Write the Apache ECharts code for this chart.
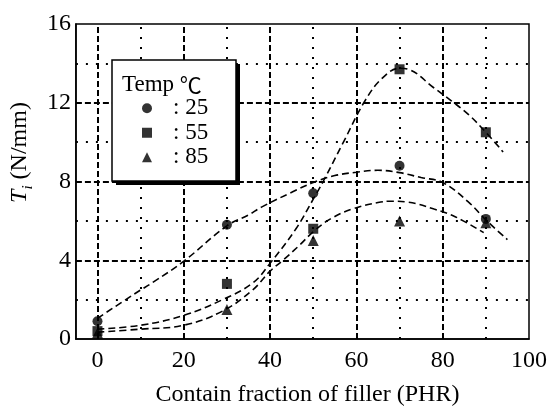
<!DOCTYPE html>
<html><head><meta charset="utf-8">
<script src="https://cdn.jsdelivr.net/npm/echarts@6/dist/echarts.min.js"></script>
<style>html,body{margin:0;padding:0;background:#fff}#c{width:559px;height:412px}</style>
</head><body><div id="c"></div>
<script>
// measured points
const fillerPHR = [0, 30, 50, 70, 90];
const ti25 = [0.9, 5.8, 7.4, 8.8, 6.1];
const ti55 = [0.4, 2.8, 5.6, 13.7, 10.5];
const ti85 = [0.3, 1.5, 5.0, 6.0, 5.9];
// fitted curves
const fit25X = [0, 9, 13, 20, 30, 35, 38, 45, 50, 55, 60, 65, 70, 75, 80, 86, 90, 95];
const fit25Y = [1.05, 2.35, 2.9, 3.95, 5.75, 6.3, 6.7, 7.45, 7.95, 8.3, 8.47, 8.57, 8.45, 8.2, 7.95, 6.95, 6.05, 5.05];
const fit55X = [0, 10, 20, 29, 36, 40, 46, 50, 52.3, 57, 62, 66, 70, 72, 78, 82, 86, 90, 94];
const fit55Y = [0.5, 0.7, 1.2, 2.0, 2.85, 3.85, 5.6, 7.1, 8.0, 10.0, 12.1, 13.25, 13.75, 13.7, 12.75, 12.1, 11.4, 10.5, 9.5];
const fit85X = [0, 10, 20, 29, 36, 40, 43, 47, 50, 54, 59, 65, 68, 72, 78, 83, 89.5];
const fit85Y = [0.35, 0.5, 0.7, 1.42, 2.5, 3.45, 4.0, 4.8, 5.45, 6.1, 6.6, 6.93, 7.0, 6.95, 6.6, 6.2, 5.4];
// grid lines and ticks
const xMajorGrid = [0, 20, 40, 60, 80];
const xMinorGrid = [10, 30, 50, 70, 90];
const yMajorGrid = [4, 8, 12];
const yMinorGrid = [2, 6, 10, 14];
const xTickLabels = [0, 20, 40, 60, 80, 100];
const legendNames = [': 25', ': 55', ': 85'];
const legendTitleWord = 'Temp ';
const legendTitleUnit = '\u2103';
const xTitle = 'Contain fraction of filler (PHR)';

const FONT = '"Liberation Serif", "DejaVu Serif", "Times New Roman", serif';
const zip = (xs, ys) => xs.map((x, i) => [x, ys[i]]);

const majorStyle = {type: [6, 3], width: 2, color: '#000'};
const minorStyle = {type: [2, 8], width: 2, color: '#000'};
const gridLines = [].concat(
  xMajorGrid.map(v => ({xAxis: v, lineStyle: majorStyle})),
  xMinorGrid.map(v => ({xAxis: v, lineStyle: minorStyle})),
  yMajorGrid.map(v => ({yAxis: v, lineStyle: majorStyle})),
  yMinorGrid.map(v => ({yAxis: v, lineStyle: minorStyle}))
);

const curveStyle = {type: [7, 4], width: 1.6, color: '#000'};
function curve(name, xs, ys, extra) {
  return Object.assign({
    name: name, type: 'line', data: zip(xs, ys), smooth: 0.4,
    showSymbol: false, symbol: 'none', lineStyle: curveStyle, silent: true, z: 3
  }, extra || {});
}

const chart = echarts.init(document.getElementById('c'));
chart.setOption({
  animation: false,
  backgroundColor: '#fff',
  grid: {left: 73, top: 24, right: 30, bottom: 65, show: true, borderColor: '#000', borderWidth: 1.5},
  xAxis: {
    type: 'value', min: -5, max: 100, interval: 5,
    name: xTitle, nameLocation: 'middle', nameGap: 44,
    nameTextStyle: {fontFamily: FONT, fontSize: 24, color: '#000', padding: [0, 0, 0, 10]},
    axisLine: {onZero: false, lineStyle: {color: '#000', width: 1.5}},
    axisTick: {show: false},
    splitLine: {show: false},
    axisLabel: {
      fontFamily: FONT, fontSize: 24, color: '#000', margin: 10,
      formatter: v => (xTickLabels.indexOf(v) >= 0 ? String(v) : '')
    }
  },
  yAxis: {
    type: 'value', min: 0, max: 16, interval: 4,
    name: '{t|T}{s|i} (N/mm)', nameLocation: 'middle', nameGap: 30, nameRotate: 90,
    nameTextStyle: {
      fontFamily: FONT, fontSize: 24, color: '#000', padding: [0, 0, 0, 58],
      rich: {
        t: {fontFamily: FONT, fontSize: 24, fontStyle: 'italic', color: '#000'},
        s: {fontFamily: FONT, fontSize: 15, fontStyle: 'italic', color: '#000', verticalAlign: 'bottom', padding: [0, 0, -4, 0]}
      }
    },
    axisLine: {onZero: false, lineStyle: {color: '#000', width: 1.5}},
    axisTick: {show: false},
    splitLine: {show: false},
    axisLabel: {fontFamily: FONT, fontSize: 24, color: '#000', margin: 5}
  },
  legend: {
    data: legendNames,
    orient: 'vertical', left: 142, top: 96, padding: 0, itemWidth: 10, itemHeight: 10, itemGap: 0,
    z: 200, selectedMode: false,
    textStyle: {fontFamily: FONT, fontSize: 23, color: '#000', lineHeight: 24.5, padding: [0, 0, 0, 16]}
  },
  graphic: [
    {type: 'rect', z: 99, silent: true,
     shape: {x: 116, y: 64, width: 124, height: 121},
     style: {fill: '#000'}},
    {type: 'rect', z: 100, silent: true,
     shape: {x: 112, y: 60, width: 124, height: 121},
     style: {fill: '#fff', stroke: '#000', lineWidth: 1.5}},
    {type: 'text', z: 200, silent: true, left: 122, top: 73,
     style: {
       text: '{a|' + legendTitleWord + '}{b|' + legendTitleUnit + '}',
       fill: '#000',
       rich: {
         a: {fontFamily: FONT, fontSize: 23, fill: '#000'},
         b: {fontFamily: '"Noto Sans CJK JP", "DejaVu Serif", sans-serif', fontSize: 22, fill: '#000'}
       }
     }}
  ],
  series: [
    curve('fit25', fit25X, fit25Y, {
      markLine: {silent: true, symbol: ['none', 'none'], label: {show: false}, animation: false, data: gridLines}
    }),
    curve('fit55', fit55X, fit55Y),
    curve('fit85', fit85X, fit85Y),
    {name: legendNames[2], type: 'scatter', symbol: 'triangle', symbolSize: 11, data: zip(fillerPHR, ti85), itemStyle: {color: '#000'}, z: 5},
    {name: legendNames[1], type: 'scatter', symbol: 'rect', symbolSize: 10, data: zip(fillerPHR, ti55), itemStyle: {color: '#000'}, z: 5},
    {name: legendNames[0], type: 'scatter', symbol: 'circle', symbolSize: 10, data: zip(fillerPHR, ti25), itemStyle: {color: '#000'}, z: 5}
  ]
});
</script>
</body></html>
